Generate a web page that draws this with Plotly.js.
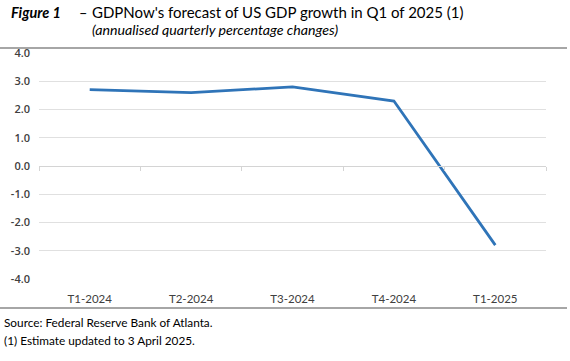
<!DOCTYPE html>
<html>
<head>
<meta charset="utf-8">
<script src="https://cdn.plot.ly/plotly-3.0.1.min.js"></script>
<style>html,body{margin:0;padding:0;background:#fff;}#chart{width:570px;height:361px;}</style>
</head>
<body>
<div id="chart"></div>
<script>
const quarters = ["T1-2024", "T2-2024", "T3-2024", "T4-2024", "T1-2025"];
const gdpNow = [2.7, 2.6, 2.8, 2.3, -2.8];
const yTicks = [-4, -3, -2, -1, 0, 1, 2, 3, 4];
const yTickText = ["-4.0", "-3.0", "-2.0", "-1.0", "0.0", "1.0", "2.0", "3.0", "4.0"];
const boundaryTicks = [-0.5, 0.5, 1.5, 2.5, 3.5, 4.5];

const W = 570, H = 361, L = 39, R = 24, T = 53, B = 82;
const pw = W - L - R, ph = H - T - B;
const px = x => (x - L) / pw;
const py = y => (H - B - y) / ph;

const FONT = "Lato, 'Liberation Sans', sans-serif";
const TICKFONT = "'Open Sans', Lato, sans-serif";

const traces = [
  {
    x: quarters, y: gdpNow, type: "scatter", mode: "lines",
    line: {color: "#2f74b8", width: 2.8},
    hoverinfo: "skip", xaxis: "x", yaxis: "y"
  },
  {
    x: [boundaryTicks[0], boundaryTicks[boundaryTicks.length - 1]], y: [0, 0],
    type: "scatter", mode: "lines", line: {color: "rgba(0,0,0,0)", width: 0},
    hoverinfo: "skip", xaxis: "x2", yaxis: "y"
  }
];

const layout = {
  width: W, height: H,
  margin: {l: L, r: R, t: T, b: B},
  paper_bgcolor: "#ffffff", plot_bgcolor: "#ffffff",
  showlegend: false,
  font: {family: FONT, color: "#404040"},
  xaxis: {
    type: "category", range: [-0.5, 4.5],
    showgrid: false, showline: false, zeroline: false,
    ticks: "outside", ticklen: 9, tickcolor: "rgba(0,0,0,0)",
    tickfont: {family: FONT, size: 11.5, color: "#404040"}
  },
  xaxis2: {
    overlaying: "x", anchor: "free", position: 0.5,
    range: [boundaryTicks[0], boundaryTicks[boundaryTicks.length - 1]],
    tickvals: boundaryTicks, showticklabels: false,
    ticks: "outside", ticklen: 4, tickcolor: "#d4d4d4", tickwidth: 1,
    showline: true, linecolor: "#d4d4d4", linewidth: 1,
    showgrid: false, zeroline: false
  },
  yaxis: {
    range: [-4, 4], tickvals: yTicks, ticktext: yTickText,
    showgrid: true, gridcolor: "#e0e0e0", gridwidth: 1,
    zeroline: false, showline: false, ticks: "",
    ticklabelstandoff: 8,
    tickfont: {family: TICKFONT, size: 11, color: "#404040", weight: 600}
  },
  shapes: [
    {type: "line", xref: "paper", yref: "paper", x0: px(0), x1: px(567), y0: py(48), y1: py(48),
     line: {color: "#a6a6a6", width: 2}},
    {type: "line", xref: "paper", yref: "paper", x0: px(0), x1: px(567), y0: py(308), y1: py(308),
     line: {color: "#a6a6a6", width: 2}}
  ],
  annotations: [
    {text: "<b><i>Figure 1</i></b>", xref: "paper", yref: "paper", x: px(9), y: py(12),
     xanchor: "left", yanchor: "middle", showarrow: false, font: {family: FONT, size: 14.5, color: "#000"}},
    {text: "–", xref: "paper", yref: "paper", x: px(77), y: py(12),
     xanchor: "left", yanchor: "middle", showarrow: false, font: {family: FONT, size: 14.5, color: "#000"}},
    {text: "GDPNow's forecast of US GDP growth in Q1 of 2025 (1)", xref: "paper", yref: "paper", x: px(90), y: py(12),
     xanchor: "left", yanchor: "middle", showarrow: false, font: {family: FONT, size: 15, color: "#000"}},
    {text: "<i>(annualised quarterly percentage changes)</i>", xref: "paper", yref: "paper", x: px(90), y: py(29),
     xanchor: "left", yanchor: "middle", showarrow: false, font: {family: FONT, size: 14.2, color: "#000"}},
    {text: "Source: Federal Reserve Bank of Atlanta.", xref: "paper", yref: "paper", x: px(2), y: py(322),
     xanchor: "left", yanchor: "middle", showarrow: false, font: {family: FONT, size: 11.8, color: "#000"}},
    {text: "(1) Estimate updated to 3 April 2025.", xref: "paper", yref: "paper", x: px(2), y: py(340),
     xanchor: "left", yanchor: "middle", showarrow: false, font: {family: FONT, size: 11.8, color: "#000"}}
  ]
};

Plotly.newPlot("chart", traces, layout, {displayModeBar: false, staticPlot: true});
</script>
</body>
</html>
